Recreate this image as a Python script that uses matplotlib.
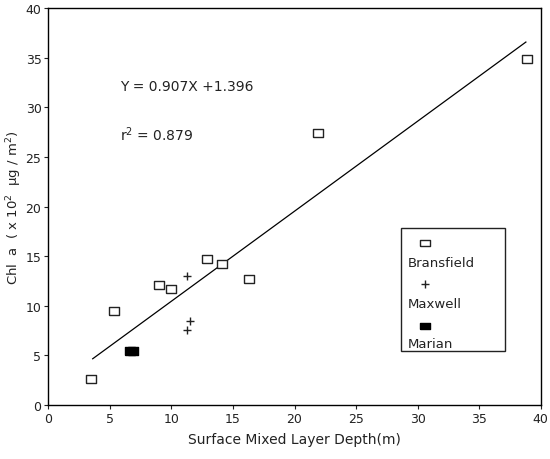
import matplotlib

matplotlib.use('agg')
import matplotlib.pyplot as plt
from matplotlib.patches import Rectangle

plt.rcParams["font.family"] = "DejaVu Sans"
plt.rcParams.update({'font.size': 9})

# Station data: mixed layer depth (m) vs integrated Chl a (x10^2 ug/m^2)
bransfield_x = [3.5, 5.3, 9.0, 10.0, 12.9, 14.1, 16.3, 21.9, 38.9]
bransfield_y = [2.6, 9.5, 12.1, 11.7, 14.7, 14.2, 12.7, 27.4, 34.9]
maxwell_x = [11.3, 11.5, 11.3]
maxwell_y = [13.0, 8.5, 7.6]
marian_x = [6.6, 6.9]
marian_y = [5.4, 5.4]

# linear fit reported for all stations
slope = 0.907
intercept = 1.396
r_squared = 0.879
fit_x = [3.6, 38.8]

x_ticks = [0, 5, 10, 15, 20, 25, 30, 35, 40]
y_ticks = [0, 5, 10, 15, 20, 25, 30, 35, 40]

# wide flat box used for the square symbols
box = [(-1.4, -1), (1.4, -1), (1.4, 1), (-1.4, 1), (-1.4, -1)]


def draw():
    figure = plt.figure(figsize=(5.5, 4.6), dpi=100)
    ax = figure.add_axes([0.088, 0.1174, 0.895, 0.8626])

    ax.plot(fit_x, [slope * x + intercept for x in fit_x], color='black', linewidth=0.9)
    ax.plot(bransfield_x, bransfield_y, linestyle='none', marker=box, markersize=7.5,
            markerfacecolor='white', markeredgecolor='#222222', markeredgewidth=1.0)
    ax.plot(maxwell_x, maxwell_y, linestyle='none', marker='+', markersize=6,
            color='#222222', markeredgewidth=1.0)
    ax.plot(marian_x, marian_y, linestyle='none', marker=box, markersize=7.5,
            markerfacecolor='black', markeredgecolor='black')

    ax.text(5.8, 32.2, 'Y = 0.907X +1.396', fontsize=10, color='#222222', va='center')
    ax.text(5.8, 27.3, 'r$^2$ = %.3f' % r_squared, fontsize=10, color='#222222', va='center')

    # legend box with symbol above each name
    ax.add_patch(Rectangle((28.65, 5.45), 8.45, 12.4, fill=False, edgecolor='#222222', linewidth=1.0))
    ax.plot([30.6], [16.3], marker=box, markersize=6.5, markerfacecolor='white',
            markeredgecolor='#222222', markeredgewidth=1.0)
    ax.text(29.2, 14.4, 'Bransfield', fontsize=9.5, color='#222222', va='center')
    ax.plot([30.6], [12.2], marker='+', markersize=6, color='#222222', markeredgewidth=1.0)
    ax.text(29.2, 10.2, 'Maxwell', fontsize=9.5, color='#222222', va='center')
    ax.plot([30.6], [8.0], marker=box, markersize=6.5, markerfacecolor='black', markeredgecolor='black')
    ax.text(29.2, 6.2, 'Marian', fontsize=9.5, color='#222222', va='center')

    ax.set_xlim(0, 40)
    ax.set_ylim(0, 40)
    ax.set_xticks(x_ticks)
    ax.set_yticks(y_ticks)
    ax.tick_params(direction='out', length=3, pad=2, colors='#222222', labelsize=9)
    ax.set_xlabel('Surface Mixed Layer Depth(m)', fontsize=10, color='#222222', labelpad=5)
    ax.set_ylabel('Chl  a  ( x 10$^2$  \u00b5g / m$^2$)', fontsize=9.5, color='#222222')
    ax.yaxis.set_label_coords(-0.05, 0.5)
    for spine in ax.spines.values():
        spine.set_linewidth(1.0)

    figure.savefig('out.png', dpi=100)


if __name__ == "__main__":
    draw()
